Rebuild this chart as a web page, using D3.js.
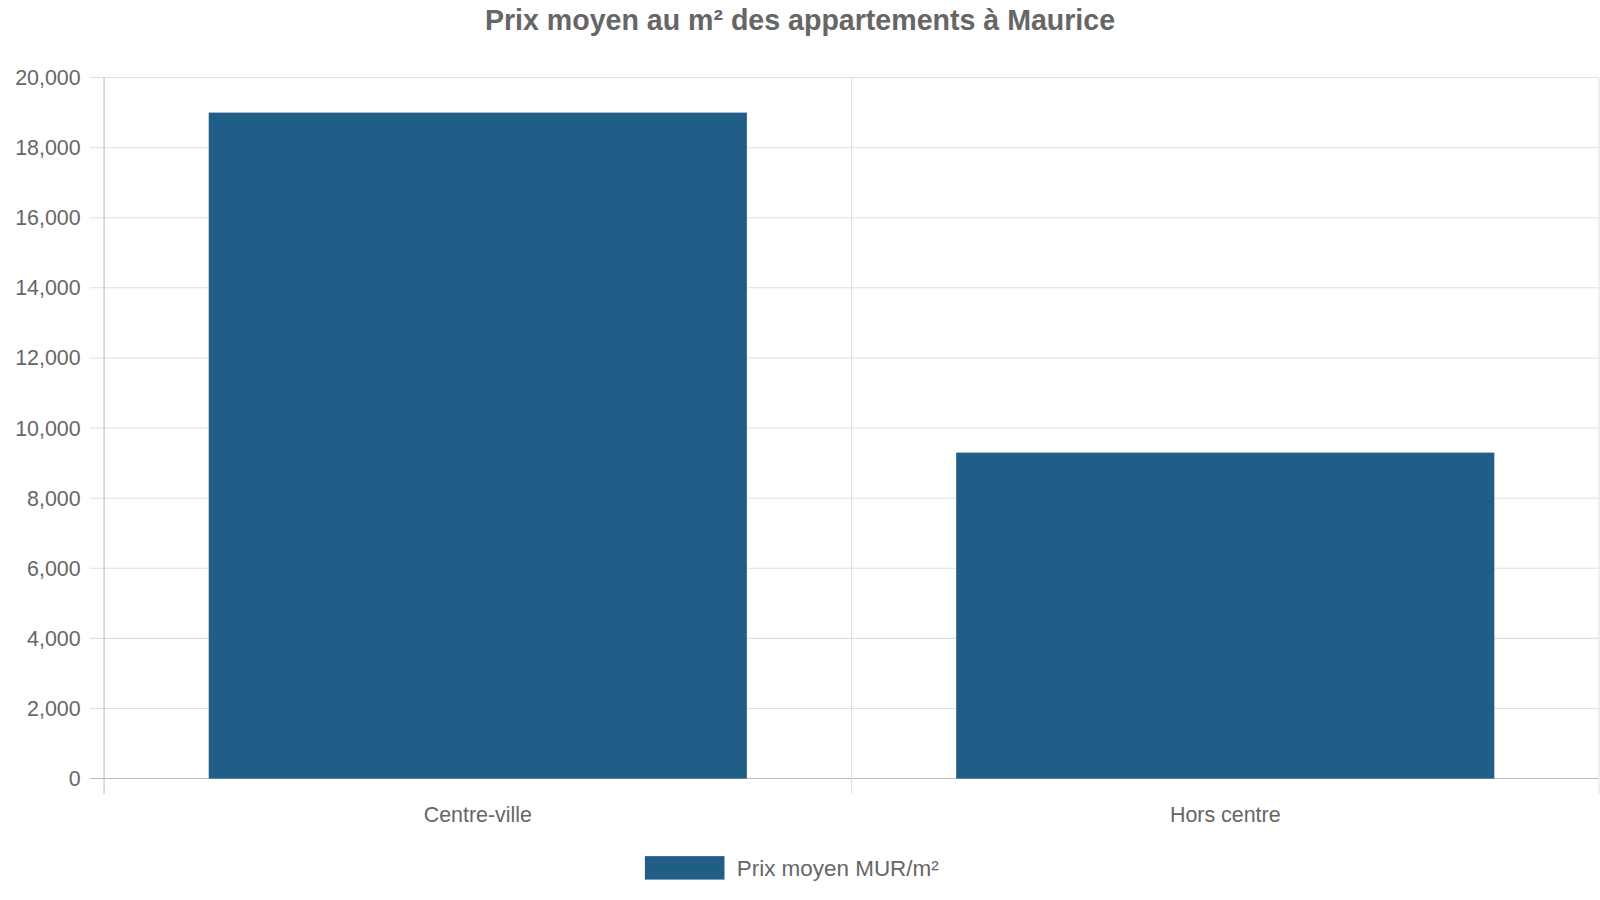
<!DOCTYPE html>
<html><head><meta charset="utf-8">
<script src="https://cdn.jsdelivr.net/npm/d3@7"></script>
<style>body{margin:0;background:#fff;overflow:hidden}svg{display:block;font-family:"Liberation Sans",Arial,sans-serif}</style>
</head><body><svg id="c" width="1600" height="900" viewBox="0 0 1568 882"></svg>
<script>
const categories = ["Centre-ville", "Hors centre"];
const values = [19000, 9300];
const yTicks = [0,2000,4000,6000,8000,10000,12000,14000,16000,18000,20000];
const seriesName = "Prix moyen MUR/m²";
const title = "Prix moyen au m² des appartements à Maurice";

const svg = d3.select("#c");
const L=102, R=1567, T=76, B=763;
const x = d3.scaleBand().domain(categories).range([L,R]).paddingInner(0).paddingOuter(0);
const y = d3.scaleLinear().domain([0,20000]).range([B,T]);
const grey="#666", grid="#e0e0e0";

svg.append("g").selectAll("line").data(yTicks).join("line")
 .attr("x1",88).attr("x2",R).attr("y1",d=>y(d)).attr("y2",d=>y(d))
 .attr("stroke",d=>d===0?"#bbb":grid).attr("stroke-width",1);
const vx=[L, ...categories.map(c=>x(c)+x.bandwidth())];
svg.append("g").selectAll("line").data(vx).join("line")
 .attr("x1",d=>d).attr("x2",d=>d).attr("y1",T).attr("y2",778)
 .attr("stroke",(d,i)=>i===0?"#bbb":grid);
svg.append("g").selectAll("text").data(yTicks).join("text")
 .attr("x",79).attr("y",d=>y(d)).attr("dy","0.35em").attr("text-anchor","end")
 .attr("fill",grey).attr("font-size",21).text(d=>d3.format(",")(d));
const pad=0.14*x.bandwidth();
svg.append("g").selectAll("rect").data(values).join("rect")
 .attr("x",(d,i)=>x(categories[i])+pad).attr("width",x.bandwidth()-2*pad)
 .attr("y",d=>y(d)).attr("height",d=>B-y(d)).attr("fill","#215e87");
svg.append("g").selectAll("text").data(categories).join("text")
 .attr("x",d=>x(d)+x.bandwidth()/2).attr("y",806).attr("text-anchor","middle")
 .attr("fill",grey).attr("font-size",21).text(d=>d);
svg.append("text").attr("x",784).attr("y",29).attr("text-anchor","middle")
 .attr("fill",grey).attr("font-size",28).attr("font-weight","bold").text(title);
svg.append("rect").attr("x",632).attr("y",839).attr("width",78).attr("height",23).attr("fill","#215e87");
svg.append("text").attr("x",722).attr("y",858).attr("fill",grey).attr("font-size",22).text(seriesName);
</script></body></html>
